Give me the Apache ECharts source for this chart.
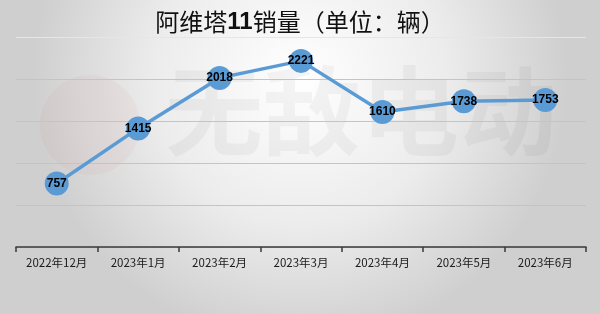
<!DOCTYPE html>
<html><head><meta charset="utf-8">
<script src="https://cdn.jsdelivr.net/npm/echarts@6/dist/echarts.min.js"></script>
<style>html,body{margin:0;padding:0;}#c{width:600px;height:314px;}</style>
</head><body><div id="c"></div>
<script>
const categories = ['2022年12月','2023年1月','2023年2月','2023年3月','2023年4月','2023年5月','2023年6月'];
const sales = [757, 1415, 2018, 2221, 1610, 1738, 1753];
const titleParts = ['阿维塔', '11', '销量（单位：辆）'];
const watermarkText = '无敌电动';

const chart = echarts.init(document.getElementById('c'));
chart.setOption({
  backgroundColor: {type:'radial', x:0.5, y:0.25, r:0.85,
    colorStops:[{offset:0,color:'#ffffff'},{offset:0.55,color:'#ececec'},{offset:1,color:'#cfcfcf'}]},
  title: {text: '{a|' + titleParts[0] + '}{b|' + titleParts[1] + '}{a|' + titleParts[2] + '}', left:'center', top:5,
    textStyle:{rich:{
      a:{fontFamily:'"Noto Sans CJK SC"', fontSize:24, fontWeight:'normal', color:'#111'},
      b:{fontFamily:'"Liberation Sans", sans-serif', fontSize:24, fontWeight:'bold', color:'#111'}
    }}},
  graphic: [
    {type:'circle', shape:{cx:90, cy:125, r:50}, style:{fill:'rgba(200,120,110,0.06)'}, z:0},
    {type:'text', left:165, top:62, style:{text: watermarkText, font:'bold 98px "Noto Sans CJK SC"', fill:'rgba(0,0,0,0.04)'}, z:0}
  ],
  grid: {left:16, right:14, top:37.5, bottom:67},
  xAxis: {type:'category', data: categories, boundaryGap:true,
    axisLine:{lineStyle:{color:'#3a3a3a', width:1.5}},
    axisTick:{show:true, inside:false, length:5, lineStyle:{color:'#3a3a3a', width:1.5}},
    axisLabel:{color:'#1a1a1a', fontSize:11.5, margin:10, fontFamily:'"Noto Sans CJK SC"'}},
  yAxis: {type:'value', min:0, max:2500, interval:500,
    axisLabel:{show:false}, axisLine:{show:false}, axisTick:{show:false},
    splitLine:{lineStyle:{color:['#c4c4c4','#c4c4c4','#c4c4c4','#c4c4c4','#c4c4c4','#e6e6e6'], width:1}}},
  series: [{
    type:'line', data: sales, symbol:'circle', symbolSize:24,
    lineStyle:{color:'#5B9BD5', width:3.5},
    itemStyle:{color:'#5B9BD5'},
    label:{show:true, position:'inside', color:'#000', fontWeight:'bold', fontSize:12,
      fontFamily:'"Liberation Sans Narrow", "Liberation Sans", sans-serif'},
    z:3
  }]
});
</script></body></html>
